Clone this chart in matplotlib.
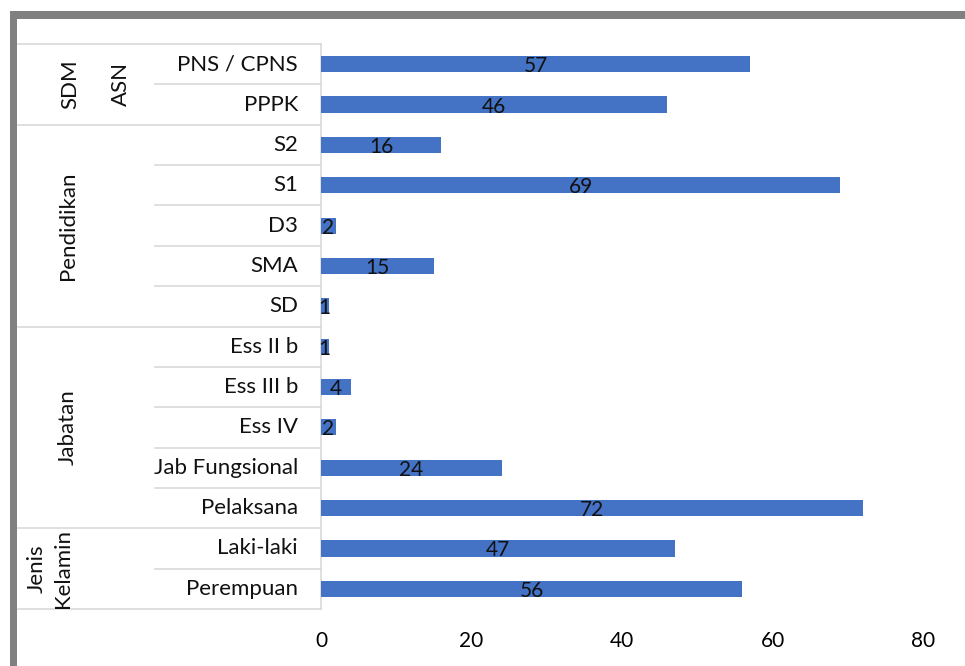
import matplotlib
matplotlib.use("Agg")
import matplotlib.pyplot as plt
from matplotlib.patches import Rectangle
from matplotlib.transforms import blended_transform_factory

plt.rcParams['font.family'] = ['Lato', 'DejaVu Sans']

categories = ["PNS / CPNS", "PPPK", "S2", "S1", "D3", "SMA", "SD",
              "Ess II b", "Ess III b", "Ess IV", "Jab Fungsional", "Pelaksana",
              "Laki-laki", "Perempuan"]
values = [57, 46, 16, 69, 2, 15, 1, 1, 4, 2, 24, 72, 47, 56]
groups = [("SDM", 0, 1), ("Pendidikan", 2, 6), ("Jabatan", 7, 11), ("Jenis\nKelamin", 12, 13)]
subgroups = [("ASN", 0, 1)]
xticks = [0, 20, 40, 60, 80]

W, H = 965, 666
fig = plt.figure(figsize=(W / 100, H / 100), dpi=100)
fig.patch.set_facecolor("white")

FS = 16
FN = 15
x0, x1 = 321, 923
ytop, ybot = 44, 609
ax = fig.add_axes([x0 / W, 1 - ybot / H, (x1 - x0) / W, (ybot - ytop) / H])

n = len(categories)
pos = list(range(n))
ax.barh(pos, values, height=0.4, color="#4472C4", zorder=3)
for p, v in zip(pos, values):
    ax.text(v / 2, p + 0.05, str(v), ha="center", va="center", fontsize=FN, color="#111111", zorder=4)

ax.set_xlim(0, 80)
ax.set_ylim(n - 0.5, -0.5)
ax.set_xticks(xticks)
ax.set_xticklabels([str(t) for t in xticks], fontsize=FN)
ax.tick_params(axis="x", length=0, pad=16)
ax.set_yticks([])
for s in ["top", "right", "bottom"]:
    ax.spines[s].set_visible(False)
ax.spines["left"].set_color("#d9d9d9")
ax.spines["left"].set_linewidth(1.2)

tr = blended_transform_factory(ax.transAxes, ax.transData)
pxw = (x1 - x0)

def fx(px):
    return (px - x0) / pxw

line_kw = dict(color="#d9d9d9", lw=1.2, clip_on=False, transform=tr)

# category labels
for p, c in zip(pos, categories):
    ax.text(fx(298), p, c, ha="right", va="center", fontsize=FS, transform=tr, color="#111111")

# group boundaries (full width)
bounds = [-0.5] + [g[2] + 0.5 for g in groups]
for b in bounds:
    ax.plot([fx(18), 0], [b, b], **line_kw)
# inner separators
for name, a, bnd in groups:
    for k in range(a, bnd):
        ax.plot([fx(155), 0], [k + 0.5, k + 0.5], **line_kw)

group_x = {"SDM": 70, "Pendidikan": 68, "Jabatan": 68, "Jenis\nKelamin": (37, 63)}
for name, a, bnd in groups:
    gx = group_x[name]
    lines = name.split("\n")
    if isinstance(gx, tuple):
        for xx, ln in zip(gx, lines):
            ax.text(fx(xx), (a + bnd) / 2, ln, rotation=90, ha="center", va="center",
                    fontsize=FS, transform=tr, color="#111111")
    else:
        ax.text(fx(gx), (a + bnd) / 2, name, rotation=90, ha="center", va="center",
                fontsize=FS, transform=tr, color="#111111")
for name, a, bnd in subgroups:
    ax.text(fx(121), (a + bnd) / 2, name, rotation=90, ha="center", va="center",
            fontsize=FS, transform=tr, color="#111111")

# gray frame (left and top)
fig.add_artist(Rectangle((10 / W, 0), 7 / W, 1 - 11 / H, transform=fig.transFigure,
                         color="#808080", lw=0))
fig.add_artist(Rectangle((10 / W, 1 - 19 / H), 1 - 10 / W, 8 / H, transform=fig.transFigure,
                         color="#808080", lw=0))

fig.savefig("out.png", dpi=100)
